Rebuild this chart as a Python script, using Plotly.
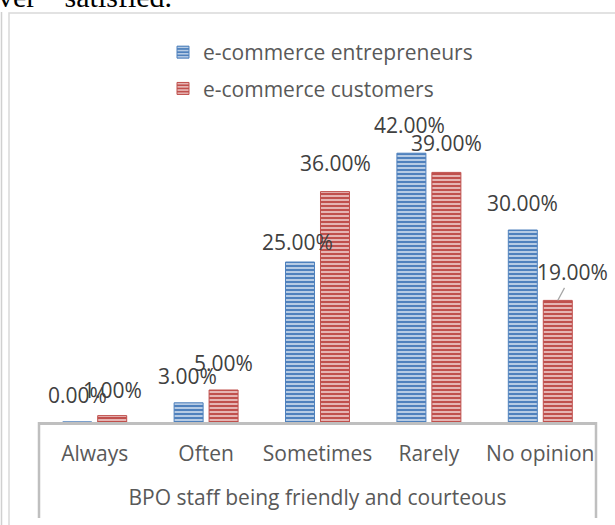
import plotly.graph_objects as go

categories = ["Always", "Often", "Sometimes", "Rarely", "No opinion"]
entrepreneurs = [0, 3, 25, 42, 30]
customers = [1, 5, 36, 39, 19]
series_names = ["e-commerce entrepreneurs", "e-commerce customers"]
axis_title = "BPO staff being friendly and courteous"
top_text = "ver\u201d  satisfied."

# label offsets (px): horizontal shift relative to bar centre, height of label centre above bar top
ent_dx = [0, -1.5, -2.5, -1.5, -0.5]
ent_dy = [27, 27, 20, 28, 27]
cus_dx = [0, 0, 0, 0, 0]
cus_dy = [26, 27, 28.5, 29, 28]

W, H = 615, 525
ML, MR, MT, MB = 39, 19, 102, 103
PW = W - ML - MR
PH = H - MT - MB
YMAX = 50.0

BLUE, RED = "#4F81BD", "#C0504D"
FONT = "Open Sans"
TXT = "#595959"
LBL = "#404040"
FS = 21

def px_x(px):
    return (px - ML) / PW

def px_y(py):
    return (H - MB - py) / PH

fig = go.Figure()
fig.add_trace(go.Bar(
    x=categories, y=entrepreneurs, name=series_names[0], legendgroup="a",
    marker=dict(color=BLUE, line=dict(color=BLUE, width=1),
                pattern=dict(shape="-", size=4, solidity=0.35, fgcolor="#E3EBF6",
                             bgcolor=BLUE, fillmode="replace")),
))
fig.add_trace(go.Bar(
    x=categories, y=customers, name=series_names[1], legendgroup="b",
    marker=dict(color=RED, line=dict(color=RED, width=1),
                pattern=dict(shape="-", size=4, solidity=0.35, fgcolor="#F5E0DF",
                             bgcolor=RED, fillmode="replace")),
))

half = 17.5
annotations = []
for i, c in enumerate(categories):
    v = entrepreneurs[i]
    annotations.append(dict(x=c, y=v, xref="x", yref="y", text=f"{v:.2f}%",
                            showarrow=False, xshift=-half + ent_dx[i], yshift=ent_dy[i],
                            yanchor="middle", xanchor="center",
                            font=dict(family=FONT, size=FS, color=LBL)))
for i, c in enumerate(categories):
    v = customers[i]
    if c == "No opinion":
        annotations.append(dict(x=c, y=v, xref="x", yref="y", text=f"{v:.2f}%",
                                showarrow=True, arrowhead=0, arrowwidth=1.2,
                                arrowcolor="#A6A6A6", ax=15, ay=-cus_dy[i],
                                xshift=half, yshift=0,
                                font=dict(family=FONT, size=FS, color=LBL)))
    else:
        annotations.append(dict(x=c, y=v, xref="x", yref="y", text=f"{v:.2f}%",
                                showarrow=False, xshift=half + cus_dx[i], yshift=cus_dy[i],
                                yanchor="middle", xanchor="center",
                                font=dict(family=FONT, size=FS, color=LBL)))

annotations.append(dict(x=px_x(-4), y=px_y(15), xref="paper", yref="paper",
                        text=top_text, showarrow=False, xanchor="left", yanchor="bottom",
                        font=dict(family="Liberation Serif", size=30, color="#000000")))

shapes = [
    # outer chart frame
    dict(type="rect", xref="paper", yref="paper", x0=px_x(9), x1=px_x(640),
         y0=px_y(560), y1=px_y(13), line=dict(color="#D9D9D9", width=1.5), layer="below"),
    # page edge line
    dict(type="line", xref="paper", yref="paper", x0=px_x(1.5), x1=px_x(1.5),
         y0=px_y(12), y1=px_y(530), line=dict(color="#D0D0D0", width=1.5)),
    # category axis box sides
    dict(type="line", xref="paper", yref="paper", x0=0, x1=0,
         y0=0, y1=px_y(518), line=dict(color="#BFBFBF", width=2.5)),
    dict(type="line", xref="paper", yref="paper", x0=1, x1=1,
         y0=0, y1=px_y(518), line=dict(color="#BFBFBF", width=2.5)),
]

fig.update_layout(
    width=W, height=H,
    margin=dict(l=ML, r=MR, t=MT, b=MB, autoexpand=False),
    paper_bgcolor="white", plot_bgcolor="white",
    barmode="group", bargap=0.372, bargroupgap=0.171,
    showlegend=True,
    legend=dict(x=px_x(163), y=px_y(32), xanchor="left", yanchor="top",
                orientation="v", traceorder="grouped", tracegroupgap=6,
                bgcolor="rgba(0,0,0,0)",
                font=dict(family=FONT, size=FS, color=TXT)),
    xaxis=dict(type="category", range=[-0.5, len(categories) - 0.5], autorange=False,
               showgrid=False, zeroline=False,
               showline=True, linecolor="#BFBFBF", linewidth=2.5,
               ticks="", ticklabelstandoff=11,
               tickfont=dict(family=FONT, size=FS, color=TXT),
               title=dict(text=axis_title, standoff=25,
                          font=dict(family=FONT, size=FS, color=TXT)),
               automargin=False),
    yaxis=dict(range=[0, YMAX], autorange=False, visible=False, showgrid=False,
               zeroline=False, automargin=False),
    annotations=annotations,
    shapes=shapes,
)

fig.write_html("out.html")
